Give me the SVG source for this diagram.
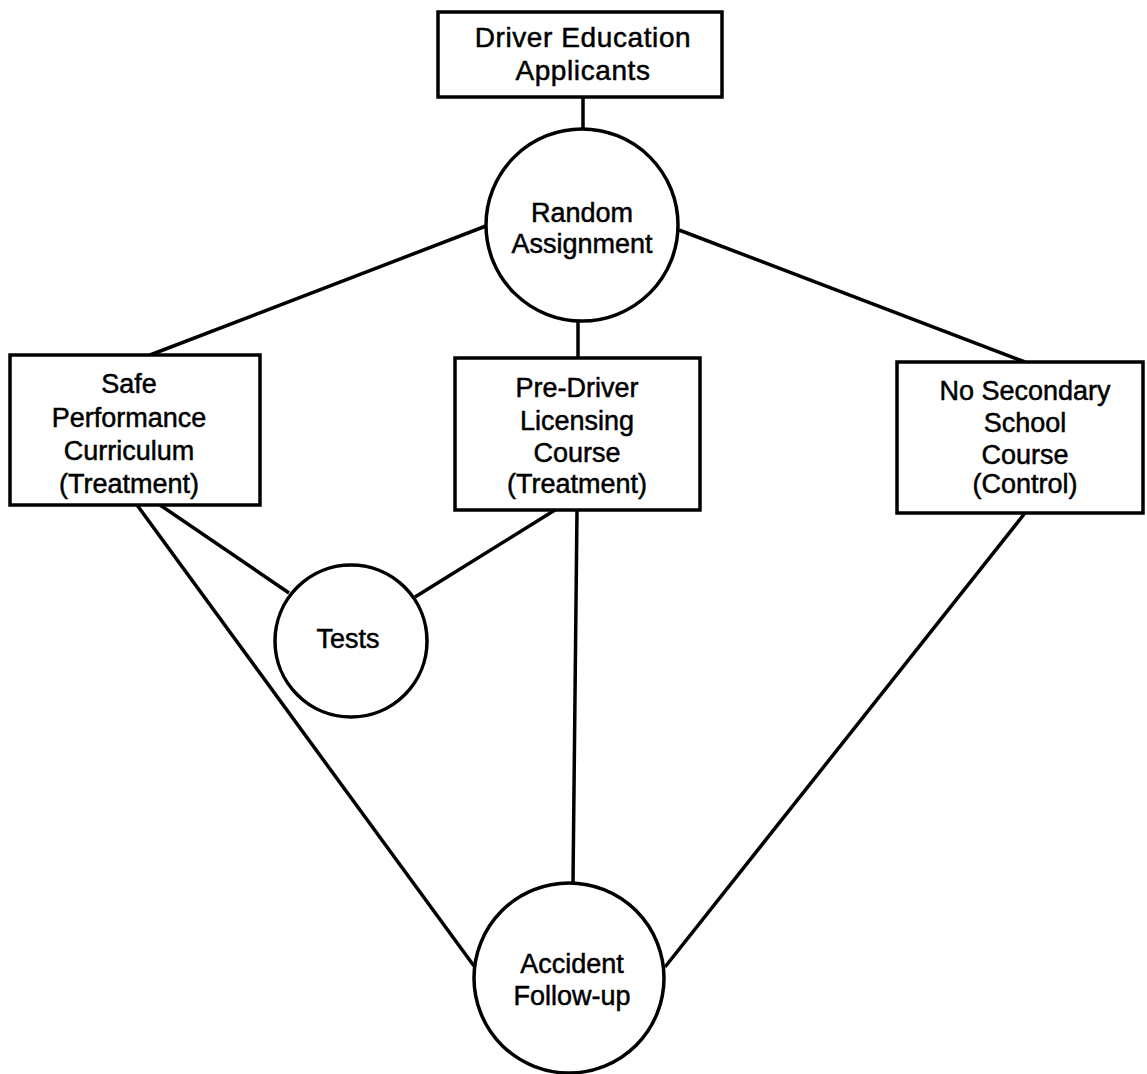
<svg xmlns="http://www.w3.org/2000/svg" width="1147" height="1074" viewBox="0 0 1147 1074">
<style>
.n{fill:#fff;stroke:#000;stroke-width:3.5}
.c{stroke:#000;stroke-width:3.5;fill:none}
text{font-family:"Liberation Sans",Arial,sans-serif;font-size:27px;fill:#000;stroke:#000;stroke-width:0.5;text-anchor:middle}
.big{font-size:28px;letter-spacing:0.6px}
</style>
<rect width="1147" height="1074" fill="#fff"/>
<g id="connectors">
<line class="c" x1="583" y1="97" x2="583" y2="130"/>
<line class="c" x1="486" y1="226" x2="150" y2="355"/>
<line class="c" x1="679" y1="230" x2="1025" y2="362"/>
<line class="c" x1="578" y1="320" x2="578" y2="358"/>
<line class="c" x1="137" y1="505" x2="474" y2="966"/>
<line class="c" x1="160" y1="505" x2="289" y2="593"/>
<line class="c" x1="555" y1="510" x2="415" y2="597"/>
<line class="c" x1="577" y1="510" x2="573" y2="883"/>
<line class="c" x1="1025" y1="513" x2="665" y2="967"/>
</g>
<g id="applicants"><rect class="n" x="438" y="12" width="284" height="85"/><text class="big" x="583" y="47">Driver Education</text><text class="big" x="583" y="80">Applicants</text></g>
<g id="random"><circle class="n" cx="582" cy="225" r="96"/><text x="582" y="222">Random</text><text x="582" y="253">Assignment</text></g>
<g id="safe"><rect class="n" x="10" y="355" width="250" height="150"/><text x="129" y="393">Safe</text><text x="129" y="427">Performance</text><text x="129" y="460">Curriculum</text><text x="129" y="493">(Treatment)</text></g>
<g id="predriver"><rect class="n" x="455" y="358" width="245" height="152"/><text x="577" y="397">Pre-Driver</text><text x="577" y="430">Licensing</text><text x="577" y="462">Course</text><text x="577" y="493">(Treatment)</text></g>
<g id="control"><rect class="n" x="897" y="362" width="246" height="151"/><text x="1025" y="400">No Secondary</text><text x="1025" y="432">School</text><text x="1025" y="464">Course</text><text x="1025" y="493">(Control)</text></g>
<g id="tests"><circle class="n" cx="351" cy="641" r="76"/><text x="348" y="648">Tests</text></g>
<g id="accident"><circle class="n" cx="569" cy="978" r="95"/><text x="572" y="973">Accident</text><text x="572" y="1005">Follow-up</text></g>
</svg>
